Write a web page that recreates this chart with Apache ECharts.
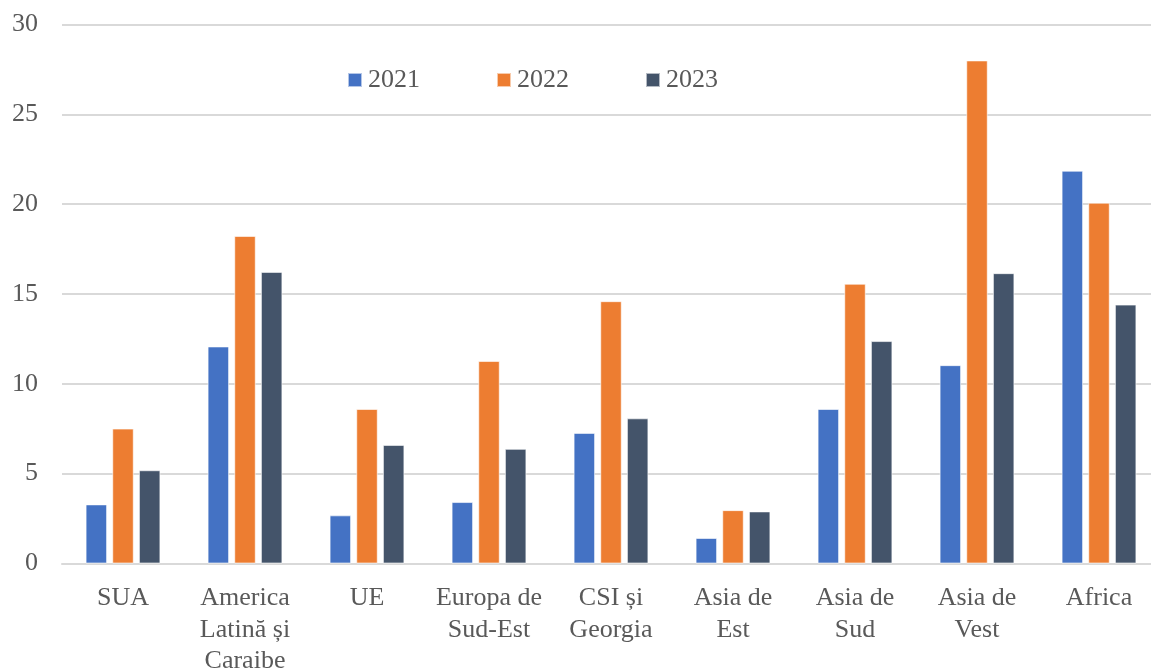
<!DOCTYPE html>
<html>
<head>
<meta charset="utf-8">
<script src="https://cdn.jsdelivr.net/npm/echarts@6/dist/echarts.min.js"></script>
<style>
html,body{margin:0;padding:0;background:#fff;overflow:hidden;}
#c{width:1151px;height:670px;}
</style>
</head>
<body>
<div id="c"></div>
<script>
const categories = ['SUA', 'America\nLatină și\nCaraibe', 'UE', 'Europa de\nSud-Est', 'CSI și\nGeorgia', 'Asia de\nEst', 'Asia de\nSud', 'Asia de\nVest', 'Africa'];
const v2021 = [3.29, 12.08, 2.68, 3.42, 7.27, 1.42, 8.6, 11.04, 21.86];
const v2022 = [7.51, 18.23, 8.6, 11.27, 14.6, 2.97, 15.57, 28.0, 20.08];
const v2023 = [5.19, 16.23, 6.6, 6.38, 8.08, 2.9, 12.38, 16.16, 14.41];
const seriesNames = ['2021', '2022', '2023'];
const colors = ['#4472C4', '#ED7D31', '#44546A'];

const font = '"Liberation Serif", "Times New Roman", serif';
const chart = echarts.init(document.getElementById('c'));
const data = [v2021, v2022, v2023];
chart.setOption({
  animation: false,
  textStyle: {fontFamily: font},
  legend: {
    data: seriesNames,
    top: 62,
    left: 342,
    itemWidth: 14,
    itemHeight: 14,
    itemGap: 76,
    icon: 'rect',
    textStyle: {fontFamily: font, fontSize: 26, color: '#595959', padding: [0,0,0,1]}
  },
  grid: {left: 62, right: -9, top: 24.5, bottom: 106.5, containLabel: false, outerBoundsMode: 'none'},
  xAxis: {
    type: 'category',
    data: categories,
    axisTick: {show: false},
    axisLine: {show: true, lineStyle: {color: '#d9d9d9', width: 2}},
    axisLabel: {fontFamily: font, fontSize: 26, color: '#595959', margin: 19, lineHeight: 31.5, interval: 0}
  },
  yAxis: {
    type: 'value',
    min: 0, max: 30, interval: 5,
    axisLine: {show: false},
    axisTick: {show: false},
    splitLine: {lineStyle: {color: '#d9d9d9', width: 2}},
    axisLabel: {fontFamily: font, fontSize: 26, color: '#595959', margin: 24}
  },
  series: seriesNames.map((n, i) => ({
    name: n,
    type: 'bar',
    data: data[i],
    barWidth: 21.5,
    barGap: '24%',
    itemStyle: {color: colors[i], borderColor: 'rgba(255,255,255,0.6)', borderWidth: 1}
  }))
});
</script>
</body>
</html>
